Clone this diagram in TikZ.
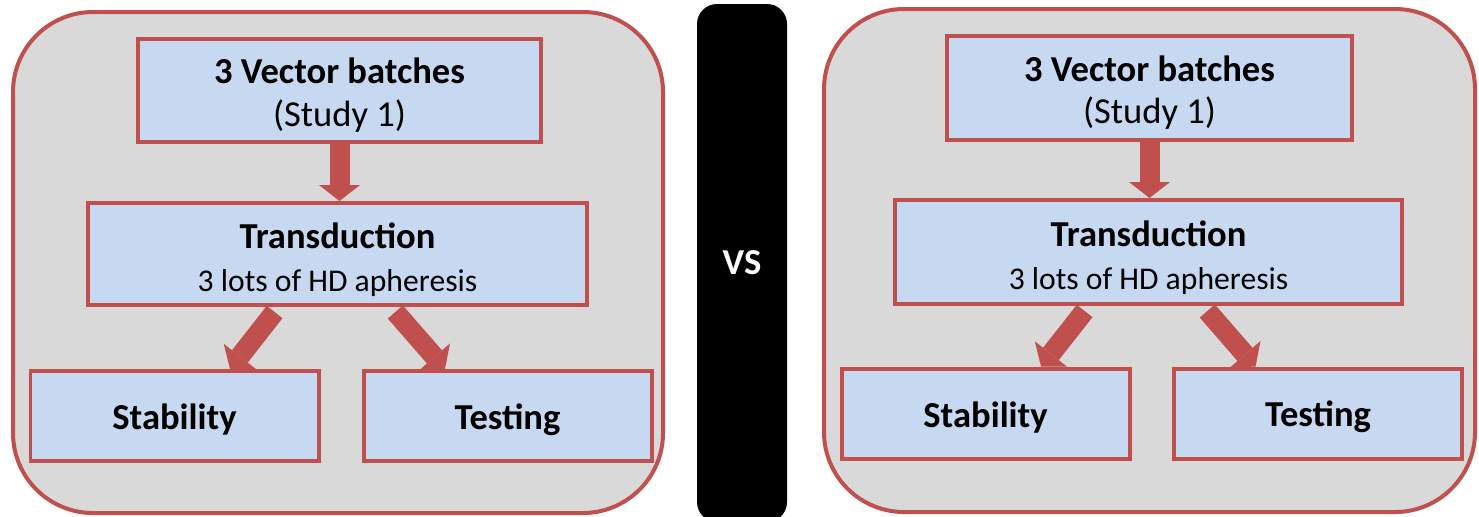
\documentclass[tikz,border=0pt]{standalone}
\usepackage{fontspec}
\setmainfont{Carlito}
\usepackage{tikz}
\usetikzlibrary{arrows.meta}
\usetikzlibrary{calc}

\definecolor{boxred}{HTML}{C0504D}
\definecolor{boxblue}{HTML}{C6D9F1}
\definecolor{panelgray}{HTML}{D9D9D9}

\newcommand{\lowerby}[1]{\rule{0pt}{#1}}

\begin{document}
\begin{tikzpicture}[line width=0.04cm,
        panel_style/.style={draw=boxred,fill=panelgray,rounded corners=0.8cm},
        box_style/.style={draw=boxred,fill=boxblue,inner sep=0pt,align=center,font=\fontsize{10.4}{12.2}\selectfont},
        small_box_style/.style={box_style,minimum width=2.88cm,minimum height=0.9cm,font=\fontsize{10.4}{12.2}\selectfont\bfseries},
        vs_style/.style={fill=black,text=white,rounded corners=0.2cm,minimum width=0.9cm,minimum height=5.18cm,font=\fontsize{10.4}{12.2}\selectfont\bfseries},
        arrow_style/.style={color=boxred,line width=0.2cm,-{Triangle[width=0.41cm,length=0.16cm,line width=0pt]}}]

        \useasboundingbox (0,0) rectangle (14.79,5.16);

        % left panel
        \draw [panel_style] (0.13,0.03) rectangle (6.63,5.04);

        \node [box_style,minimum width=4.03cm,minimum height=1.03cm](batch1) at (3.395,4.255) {\lowerby{0.35cm}{\bfseries 3 Vector batches}\\(Study 1)};

        \node [box_style,minimum width=4.99cm,minimum height=1.02cm](trans1) at (3.375,2.62) {\lowerby{0.37cm}{\bfseries Transduction}\\{\fontsize{9}{11}\selectfont 3 lots of HD apheresis}};

        \node [small_box_style](stab1) at (1.745,1.0) {\lowerby{0.33cm}Stability};

        \node [small_box_style](test1) at (5.075,1.0) {\lowerby{0.33cm}Testing};

        \draw [arrow_style] (batch1.south) -- (batch1.south |- trans1.north);

        \draw [arrow_style] ($(trans1.south west)!0.375!(trans1.south east)+(0,-0.05)$) -- ($(stab1.north west)!0.69!(stab1.north east)$);

        \draw [arrow_style] ($(trans1.south west)!0.615!(trans1.south east)+(0,-0.05)$) -- ($(test1.north west)!0.286!(test1.north east)$);

        % middle bar
        \node [vs_style](vs) at (7.42,2.53) {VS};

        % right panel
        \draw [panel_style] (8.24,0.04) rectangle (14.75,5.07);

        \node [box_style,minimum width=4.05cm,minimum height=1.04cm](batch2) at (11.495,4.28) {\lowerby{0.35cm}{\bfseries 3 Vector batches}\\(Study 1)};

        \node [box_style,minimum width=5.07cm,minimum height=1.04cm](trans2) at (11.485,2.64) {\lowerby{0.37cm}{\bfseries Transduction}\\{\fontsize{9}{11}\selectfont 3 lots of HD apheresis}};

        \node [small_box_style](stab2) at (9.855,1.025) {\lowerby{0.33cm}Stability};

        \node [small_box_style](test2) at (13.18,1.025) {\lowerby{0.33cm}Testing};

        \draw [arrow_style] (batch2.south) -- (batch2.south |- trans2.north);

        \draw [arrow_style] ($(trans2.south west)!0.375!(trans2.south east)+(0,-0.05)$) -- ($(stab2.north west)!0.69!(stab2.north east)$);

        \draw [arrow_style] ($(trans2.south west)!0.615!(trans2.south east)+(0,-0.05)$) -- ($(test2.north west)!0.286!(test2.north east)$);

\end{tikzpicture}
\end{document}
